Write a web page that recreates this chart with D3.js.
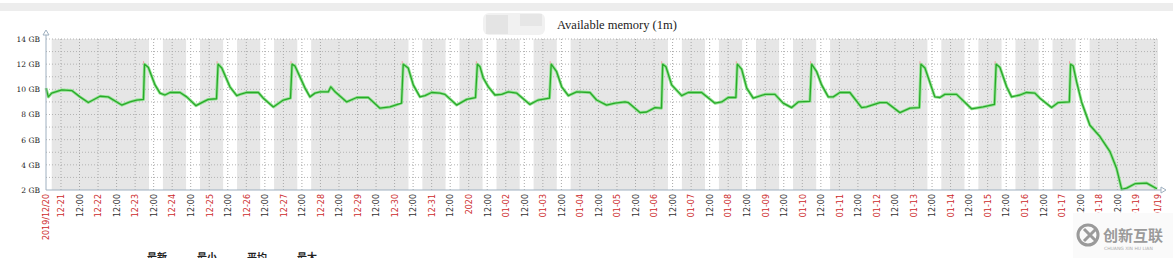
<!DOCTYPE html>
<html lang="en">
<head>
<meta charset="UTF-8">
<title>Available memory</title>
<style>
  body { margin: 0; background: #fff; }
  svg { display: block; }
</style>
</head>
<body>
<svg width="1173" height="258" id="viz"></svg>
<script src="https://d3js.org/d3.v7.min.js"></script>
<script>
// hours counted from 2019-12-20 00:00
const hours = [14.3,15.8,18.0,24.5,31.0,36.3,41.7,49.3,54.6,63.3,68.7,73.0,77.4,78.1,80.5,84.9,88.1,91.3,94.6,101.1,105.4,111.4,116.1,119.4,124.7,125.7,128.1,133.4,137.8,139.9,144.3,151.8,155.0,161.5,168.0,172.6,173.6,175.5,178.7,182.0,185.2,188.5,191.7,197.1,198.7,201.5,209.0,215.5,223.0,230.5,237.0,244.5,245.6,248.8,252.1,256.4,259.7,264.0,269.4,272.6,280.2,286.7,292.4,293.6,295.3,297.4,300.7,305.0,309.3,313.6,319.0,327.6,333.0,340.3,341.4,344.9,348.2,352.5,357.9,366.5,370.8,377.3,382.7,389.2,391.3,398.9,403.2,408.6,412.8,413.6,415.7,419.4,425.9,430.1,438.8,447.4,451.8,456.0,461.0,461.9,464.7,468.0,472.2,479.8,486.3,491.6,497.1,501.4,508.9,510.0,513.3,516.5,520.8,524.0,528.3,534.8,542.4,545.6,554.2,558.6,567.2,573.7,579.8,580.8,583.4,589.8,593.1,596.3,603.9,613.6,621.1,628.4,629.5,631.9,636.3,639.5,644.9,649.2,654.6,657.8,665.4,669.7,676.9,677.7,679.4,681.6,684.8,690.2,696.7,703.2,707.5,710.8,714.0,719.4,727.0,733.6];
const memGB = [10.1,9.4,9.7,9.95,9.9,9.4,8.95,9.45,9.4,8.75,9.0,9.15,9.2,12.0,11.75,10.35,9.7,9.55,9.75,9.75,9.4,8.7,9.0,9.2,9.25,12.0,11.7,10.2,9.5,9.6,9.75,9.75,9.3,8.6,9.15,9.3,12.0,11.85,11.0,10.1,9.4,9.7,9.8,9.8,10.2,9.8,9.0,9.35,9.35,8.5,8.6,8.9,12.0,11.7,10.35,9.4,9.5,9.75,9.7,9.6,8.75,9.2,9.35,12.0,11.8,10.9,10.2,9.55,9.6,9.8,9.7,8.8,9.15,9.3,12.0,11.4,10.2,9.5,9.8,9.75,9.15,8.75,8.9,9.0,8.95,8.15,8.2,8.55,8.5,12.0,11.8,10.35,9.5,9.75,9.75,8.9,9.0,9.35,9.35,12.0,11.6,10.1,9.3,9.6,9.6,8.9,8.55,9.0,9.05,12.0,11.4,10.35,9.4,9.4,9.75,9.75,8.55,8.6,8.95,8.95,8.15,8.5,8.55,12.0,11.7,9.4,9.35,9.6,9.6,8.45,8.6,8.8,12.0,11.75,10.2,9.4,9.55,9.75,9.7,9.3,8.55,8.95,9.0,12.0,11.85,10.6,9.0,7.15,6.25,5.05,3.7,2.05,2.15,2.5,2.55,2.1];
const yTicks = [2,4,6,8,10,12,14];
const legendLabels = ["最新","最小","平均","最大"];
const title = "Available memory (1m)";
const startHour = 14.3, endHour = 734.3;

const svg = d3.select("#viz");
const margin = {top: 39, left: 46, right: 15, bottom: 68};
const width = +svg.attr("width") - margin.left - margin.right,
      height = +svg.attr("height") - margin.top - margin.bottom;

const day0 = new Date(2019, 11, 20);
const at = h => new Date(day0.getTime() + h * 3600e3);
const t0 = at(startHour), t1 = at(endHour);

const x = d3.scaleTime().domain([t0, t1]).range([0, width]);
const y = d3.scaleLinear().domain([2, 14]).range([height, 0]);

const data = d3.zip(hours, memGB).map(d => ({t: at(d[0]), v: d[1]}));

// top strip + title
svg.append("rect").attr("x", 0).attr("y", 3).attr("width", 1173).attr("height", 8).attr("fill", "#ededed");
svg.append("rect").attr("x", 483).attr("y", 13).attr("width", 62).attr("height", 22).attr("rx", 6).attr("fill", "#f1f1f1");
svg.append("rect").attr("x", 486).attr("y", 15).attr("width", 22).attr("height", 19).attr("fill", "#e4e4e4");
svg.append("rect").attr("x", 520).attr("y", 14).attr("width", 22).attr("height", 12).attr("fill", "#e6e6e6");
svg.append("text").attr("x", 557).attr("y", 29)
  .style("font-family", "Liberation Serif, serif").style("font-size", "12.5px").style("fill", "#222")
  .text(title);

const g = svg.append("g").attr("transform", `translate(${margin.left},${margin.top})`);

// non-working time gray, work hours white
g.append("rect").attr("width", width).attr("height", height).attr("fill", "#e6e6e6");
d3.timeDay.range(d3.timeDay.floor(t0), t1).forEach(d => {
  const wd = d.getDay();
  if (wd === 0 || wd === 6) return;
  const a = d3.max([d3.timeHour.offset(d, 9), t0]);
  const b = d3.min([d3.timeHour.offset(d, 18), t1]);
  if (b <= a) return;
  g.append("rect").attr("x", x(a)).attr("y", 0).attr("width", x(b) - x(a)).attr("height", height).attr("fill", "#fff");
});

// grid
g.selectAll(".hgrid").data(d3.range(3, 15)).enter().append("line")
  .attr("class", "hgrid")
  .attr("x1", 0).attr("x2", width).attr("y1", d => y(d)).attr("y2", d => y(d))
  .style("stroke", "#b4b4b4").style("stroke-dasharray", "1,2").style("stroke-width", 1);
const gridTimes = d3.timeHour.every(12).range(t0, t1);
g.selectAll(".vgrid").data(gridTimes).enter().append("line")
  .attr("class", "vgrid")
  .attr("x1", d => x(d)).attr("x2", d => x(d)).attr("y1", 0).attr("y2", height)
  .style("stroke", "#a8a8a8").style("stroke-dasharray", "1,2").style("stroke-width", 1);

// series
const line = d3.line().x(d => x(d.t)).y(d => y(d.v));
g.append("path").datum(data).attr("d", line)
  .style("fill", "none").style("stroke", "#8fe38f").style("stroke-width", 3).style("stroke-linejoin", "round");
g.append("path").datum(data).attr("d", line)
  .style("fill", "none").style("stroke", "#2aa82a").style("stroke-width", 1.3).style("stroke-linejoin", "round");
// pink max markers on peaks
g.selectAll(".peak").data(data.filter(d => d.v >= 12)).enter().append("line")
  .attr("x1", d => x(d.t) - 1).attr("x2", d => x(d.t) - 1)
  .attr("y1", d => y(d.v) - 3).attr("y2", d => y(d.v) - 0.5)
  .style("stroke", "#f0a0a0").style("stroke-width", 1);

// axes
const axisColor = "#9fb0c0";
const yAxis = g.append("g").call(d3.axisLeft(y).tickValues(yTicks).tickSize(0).tickPadding(6).tickFormat(d => d + " GB"));
yAxis.select(".domain").remove();
yAxis.selectAll("text").style("font-family", "DejaVu Serif, serif").style("font-size", "7.5px").style("fill", "#222");
g.append("line").attr("x1", 0).attr("x2", 0).attr("y1", -5).attr("y2", height).style("stroke", axisColor);
g.append("path").attr("d", "M-3,-4L0,-9L3,-4Z").style("fill", "#fff").style("stroke", axisColor);
g.append("line").attr("x1", 0).attr("x2", width + 4).attr("y1", height).attr("y2", height).style("stroke", axisColor);
g.append("path").attr("d", `M${width + 3},${height - 3}L${width + 8},${height}L${width + 3},${height + 3}Z`)
  .style("fill", "#fff").style("stroke", axisColor);

const fmtDay = d3.timeFormat("%m-%d");
// labels too close to the range ends are dropped
const tickTimes = [t0].concat(gridTimes.filter(d => x(d) - x(t0) > 8 && x(t1) - x(d) > 8), [t1]);
const tickFmt = d => {
  if (+d === +t0) return "2019/12/20";
  if (+d === +t1) return "01/19";
  if (d.getHours() === 12) return "12:00";
  if (d.getMonth() === 0 && d.getDate() === 1) return "2020";
  return fmtDay(d);
};
const xAxis = g.append("g").attr("transform", `translate(0,${height})`)
  .call(d3.axisBottom(x).tickValues(tickTimes).tickSize(0).tickFormat(tickFmt));
xAxis.select(".domain").remove();
xAxis.selectAll("text")
  .attr("transform", "rotate(-90)")
  .attr("x", -4).attr("y", 0).attr("dy", "0.35em")
  .style("text-anchor", "end")
  .style("font-family", "DejaVu Sans, sans-serif").style("font-size", "8px")
  .style("fill", d => d.getHours() === 12 && +d !== +t0 && +d !== +t1 ? "#333" : "#cc2a2a");

// legend header (cut at bottom edge, as in the source screenshot)
svg.selectAll(".leg").data(legendLabels).enter().append("text")
  .attr("x", (d, i) => 147 + i * 50).attr("y", 261)
  .style("font-family", "Noto Sans CJK SC, sans-serif").style("font-size", "10px").style("font-weight", "bold")
  .style("fill", "#222").text(d => d);

// watermark
const wm = svg.append("g");
wm.append("rect").attr("x", 1073).attr("y", 213).attr("width", 100).attr("height", 45).attr("fill", "#fafafa");
wm.append("circle").attr("cx", 1088).attr("cy", 235).attr("r", 10).style("fill", "none").style("stroke", "#9a9a9a").style("stroke-width", 3);
wm.append("path").attr("d", "M1084,229L1096,241M1096,229L1084,241").style("stroke", "#9a9a9a").style("stroke-width", 3);
wm.append("text").attr("x", 1103).attr("y", 241).style("font-family", "Noto Sans CJK SC, sans-serif")
  .style("font-size", "15px").style("font-weight", "bold").style("fill", "#9a9a9a").text("创新互联");
wm.append("text").attr("x", 1104).attr("y", 250).style("font-family", "DejaVu Sans, sans-serif")
  .style("font-size", "4.5px").style("fill", "#aaa").text("CHUANG XIN HU LIAN");
</script>
</body>
</html>
